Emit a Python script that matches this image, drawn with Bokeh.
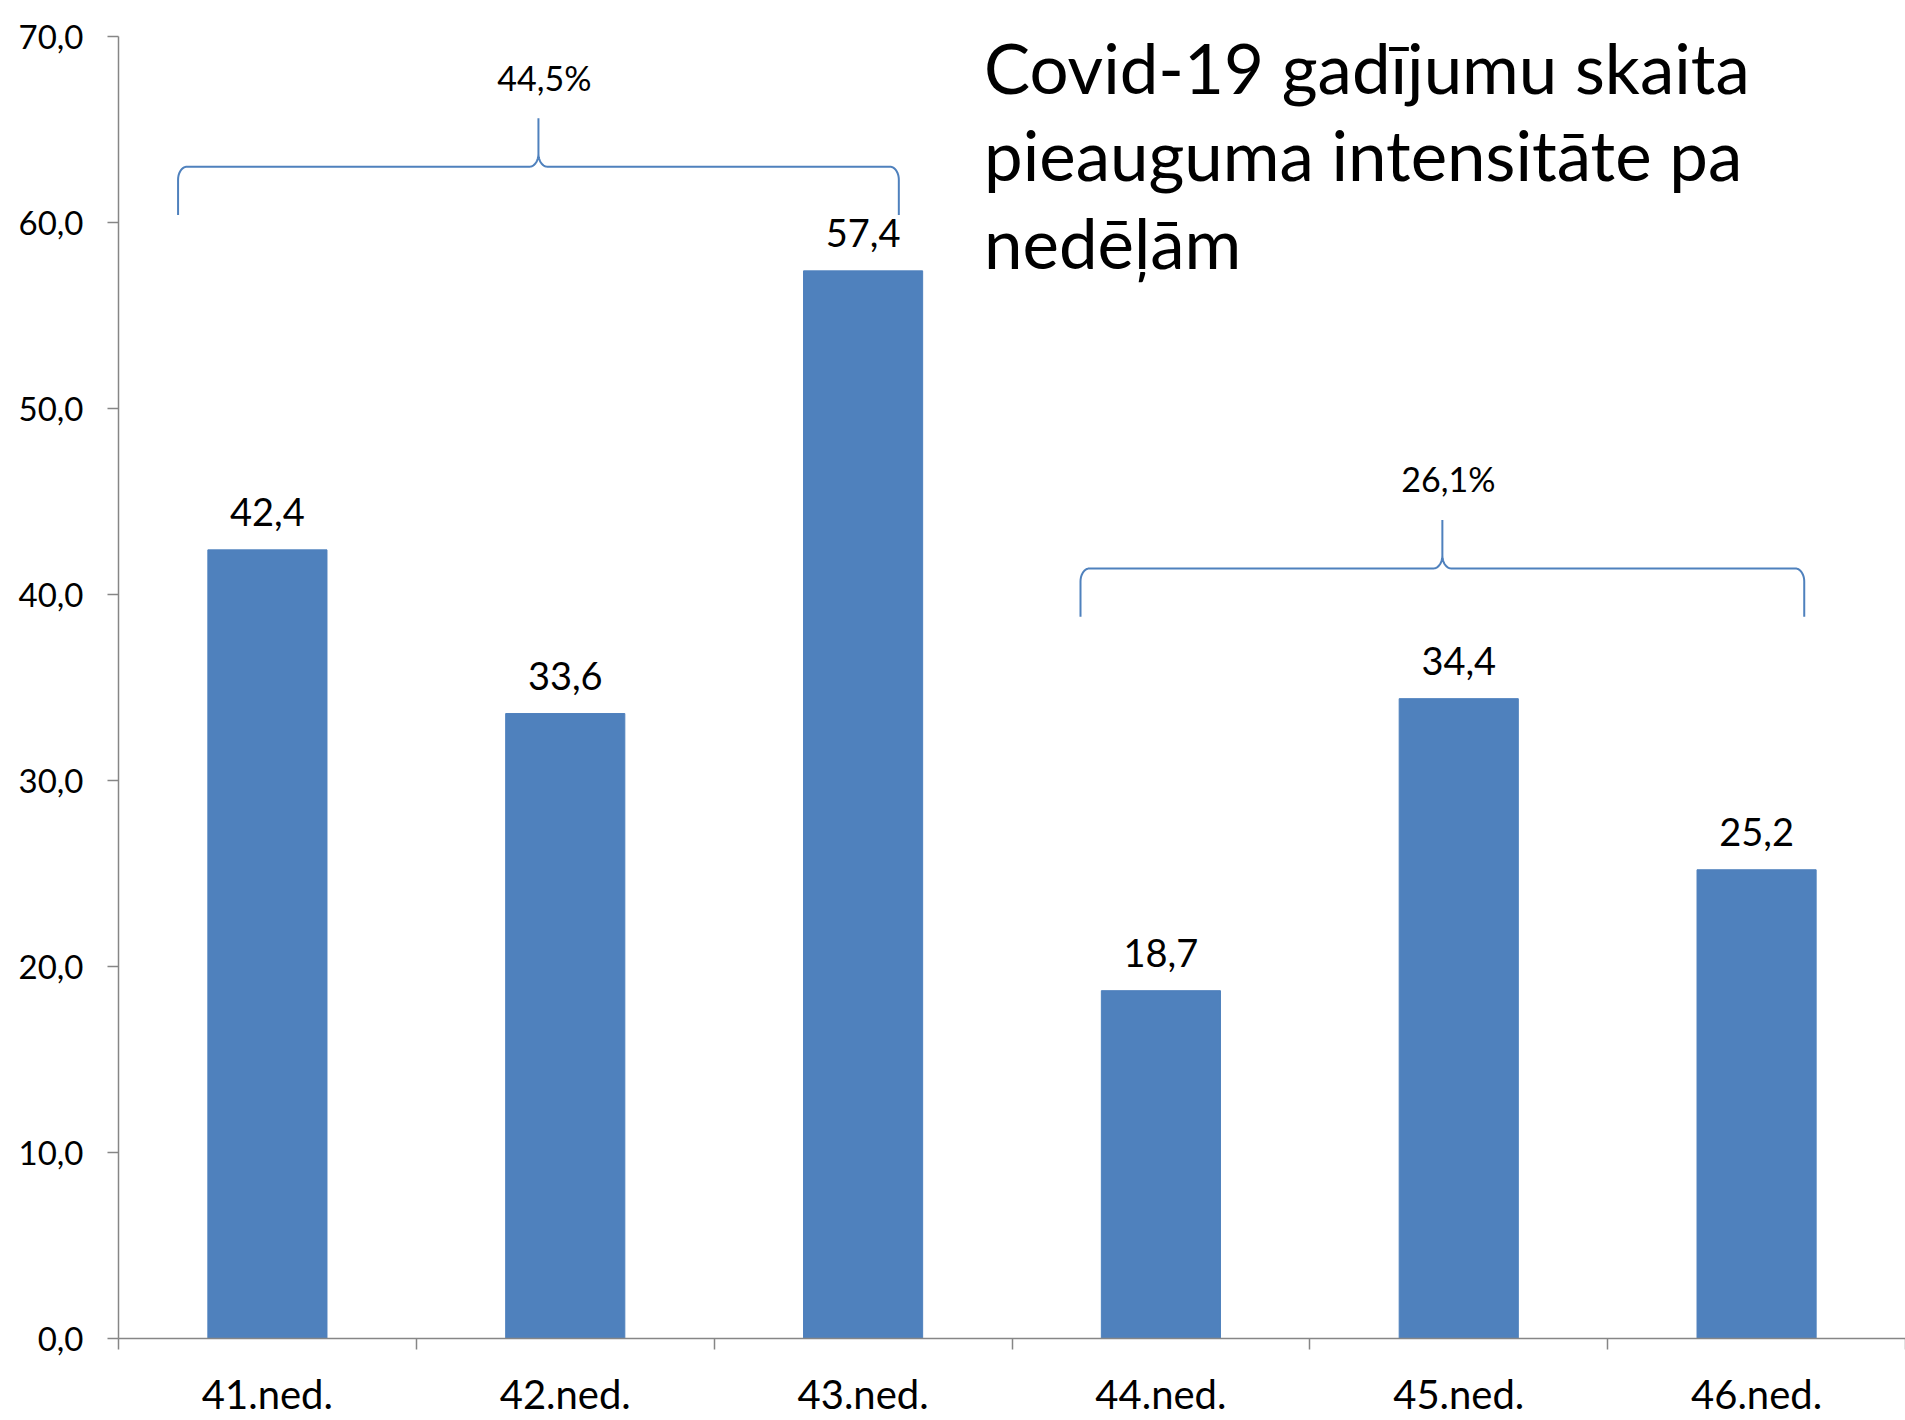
import numpy as np
from bokeh.plotting import figure
from bokeh.models import Range1d, FixedTicker, ColumnDataSource, LabelSet, Label
from bokeh.core.properties import value
from bokeh.embed import file_html
from bokeh.resources import INLINE

# ---- data ----
weeks = ["41.ned.", "42.ned.", "43.ned.", "44.ned.", "45.ned.", "46.ned."]
cases = [42.4, 33.6, 57.4, 18.7, 34.4, 25.2]
y_ticks = [0, 10, 20, 30, 40, 50, 60, 70]
y_tick_labels = ["0,0", "10,0", "20,0", "30,0", "40,0", "50,0", "60,0", "70,0"]
brace_labels = ["44,5%", "26,1%"]
brace_x0 = [0.2, 3.23]
brace_x1 = [2.62, 5.66]
brace_level = [63.0, 41.4]
brace_label_y = [67.8, 46.25]
title_lines = ["Covid-19 gadījumu skaita", "pieauguma intensitāte pa", "nedēļām"]

FONT = "Lato"
BLUE = "#4F81BD"
AXIS = "#868686"

p = figure(width=1905, height=1420, x_range=Range1d(0, len(weeks)), y_range=Range1d(0, 70),
           output_backend="svg", toolbar_location=None,
           min_border_left=118, min_border_right=0, min_border_top=36, min_border_bottom=76)
p.outline_line_color = None
p.xgrid.grid_line_color = None
p.ygrid.grid_line_color = None
p.background_fill_color = "white"
p.border_fill_color = "white"

xs = [i + 0.5 for i in range(len(weeks))]
src = ColumnDataSource(dict(x=xs, top=cases,
                            lab=[f"{v:.1f}".replace(".", ",") for v in cases]))
p.vbar(x="x", top="top", width=0.4, source=src, fill_color=BLUE, line_color=BLUE, line_width=1)

p.add_layout(LabelSet(x="x", y="top", text="lab", source=src, text_align="center",
                      text_baseline="alphabetic", y_offset=24, text_font=value(FONT),
                      text_font_size=value("38px"), text_color="black"))

# x axis
xa = p.xaxis[0]
xa.ticker = FixedTicker(ticks=xs, minor_ticks=list(range(len(weeks) + 1)))
xa.major_label_overrides = {x: w for x, w in zip(xs, weeks)}
xa.major_tick_out = 0
xa.major_tick_in = 0
xa.minor_tick_out = 11
xa.minor_tick_in = 0
xa.minor_tick_line_color = AXIS
xa.minor_tick_line_width = 1.5
xa.axis_line_color = AXIS
xa.axis_line_width = 1.5
xa.major_label_text_font = FONT
xa.major_label_text_font_size = "40px"
xa.major_label_text_color = "black"
xa.major_label_standoff = 20

# y axis
ya = p.yaxis[0]
ya.ticker = FixedTicker(ticks=y_ticks, minor_ticks=[])
ya.major_label_overrides = {t: l for t, l in zip(y_ticks, y_tick_labels)}
ya.major_tick_out = 11
ya.major_tick_in = 0
ya.major_tick_line_color = AXIS
ya.major_tick_line_width = 1.5
ya.axis_line_color = AXIS
ya.axis_line_width = 1.5
ya.major_label_text_font = FONT
ya.major_label_text_font_size = "33px"
ya.major_label_text_color = "black"
ya.major_label_standoff = 24

# braces
def arc(cx, cy, rx, ry, a0, a1, n=12):
    t = np.linspace(a0, a1, n)
    return list(cx + rx * np.cos(t)), list(cy + ry * np.sin(t))

rx, ry = 0.03, 0.7
drop, tip = 2.6, 2.6
for x0, x1, yl, lab, ly in zip(brace_x0, brace_x1, brace_level, brace_labels, brace_label_y):
    mid = (x0 + x1) / 2
    bx, by = [x0], [yl - drop]
    for seg in (arc(x0 + rx, yl - ry, rx, ry, np.pi, np.pi / 2),
                arc(mid - rx, yl + ry, rx, ry, -np.pi / 2, 0)):
        bx += seg[0]; by += seg[1]
    bx.append(mid); by.append(yl + tip)
    for seg in (arc(mid + rx, yl + ry, rx, ry, np.pi, 3 * np.pi / 2),
                arc(x1 - rx, yl - ry, rx, ry, np.pi / 2, 0)):
        bx += seg[0]; by += seg[1]
    bx.append(x1); by.append(yl - drop)
    p.line(bx, by, line_color=BLUE, line_width=2)
    p.add_layout(Label(x=mid + 0.02, y=ly, text=lab, text_align="center",
                       text_baseline="alphabetic", text_font=FONT, text_font_size="34px",
                       text_color="black"))

# title
title_x = 2.906
title_y0 = 68.35
line_step = 4.7
for i, line in enumerate(title_lines):
    p.add_layout(Label(x=title_x, y=title_y0 - i * line_step, text=line, text_align="left",
                       text_baseline="alphabetic", text_font=FONT, text_font_size="69px",
                       text_color="black"))

open("out.html", "w").write(file_html(p, INLINE))
